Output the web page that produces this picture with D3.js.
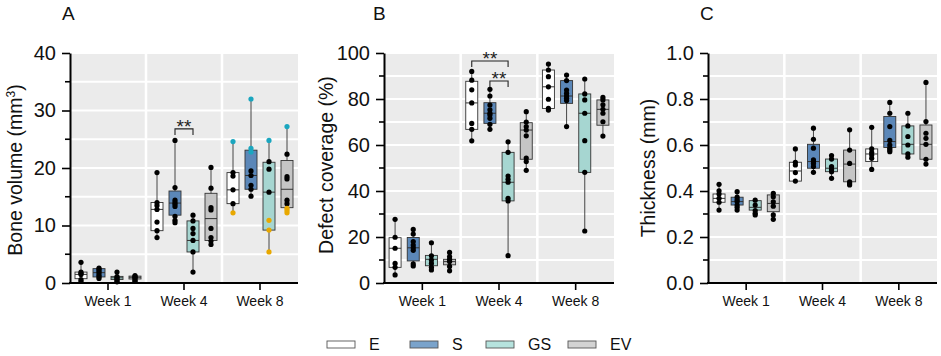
<!DOCTYPE html>
<html>
<head>
<meta charset="utf-8">
<script src="https://cdn.jsdelivr.net/npm/d3@7"></script>
<style>
  body { margin: 0; background: #fff; }
  svg { font-family: "Liberation Sans", Arial, sans-serif; }
</style>
</head>
<body>
<div id="chart"></div>
<script>
const width = 941
const height = 356

const weeks = ["Week 1", "Week 4", "Week 8"]
const groups = ["E", "S", "GS", "EV"]
const fills = ["#ffffff", "#5b87b8", "#a6d6d1", "#c5c5c5"]
const legendFills = ["#ffffff", "#7aa3cb", "#b6e3de", "#d3d3d3"]

// [q1, median, q3], order: week x group
const boneStats = [
  [0.75, 1.5, 1.9], [1.05, 1.8, 2.5], [0.6, 0.9, 1.15], [0.7, 1.0, 1.2],
  [9.1, 12.8, 14.0], [11.8, 13.9, 16.0], [5.4, 7.4, 10.8], [7.4, 11.2, 15.6],
  [13.8, 16.2, 19.2], [16.3, 18.7, 23.1], [9.2, 15.8, 21.0], [13.1, 16.3, 21.3]
]
const bonePts = [
  [3.6, 1.9, 1.7, 1.5, 0.6, 0.3], [2.6, 2.4, 2.1, 1.8, 1.4, 1.1, 0.8], [1.9, 1.1, 0.9, 0.7, 0.4, 0.2], [1.3, 1.1, 1.0, 0.8, 0.5, 0.3],
  [19.2, 14.0, 13.5, 12.8, 10.6, 9.1, 7.9], [24.8, 16.6, 14.4, 14.0, 13.7, 13.3, 11.6, 10.9, 10.5], [11.8, 10.8, 9.5, 8.6, 7.4, 5.4, 1.9], [20.1, 16.5, 13.1, 12.7, 9.5, 7.9, 7.3, 6.7],
  [19.2, 18.6, 16.2, 13.8], [19.5, 18.7, 17.0, 16.3, 15.1], [21.1, 19.8, 15.8], [22.4, 18.5, 18.1, 14.4, 13.8]
]
const boneCyan = [[], [], [], [], [], [], [], [], [24.6], [32.0, 23.4, 22.8], [24.8], [27.2]]
const boneOrange = [[], [], [], [], [], [], [], [], [12.2], [], [10.9, 9.2, 5.4], [13.0, 12.6, 12.2]]

const coverStats = [
  [6.8, 15.1, 19.7], [9.6, 15.3, 19.8], [7.5, 10.3, 12.0], [7.9, 9.3, 10.3],
  [66.8, 78.3, 87.7], [69.4, 73.8, 78.4], [35.7, 43.8, 56.8], [53.8, 66.5, 69.7],
  [75.9, 85.3, 92.6], [78.1, 81.3, 88.0], [48.1, 73.8, 82.2], [68.6, 75.5, 79.6]
]
const coverPts = [
  [27.7, 19.9, 15.1, 8.5, 6.8, 3.5], [23.3, 21.3, 18.0, 16.5, 15.3, 14.2, 8.3, 7.4], [17.5, 11.8, 10.0, 8.5, 6.8, 5.7], [13.3, 11.5, 10.3, 9.3, 7.2, 5.3],
  [92.0, 88.2, 84.0, 78.3, 69.4, 66.8, 61.8], [84.2, 81.3, 77.4, 75.3, 73.8, 73.0, 71.6, 69.0, 66.8], [61.4, 56.8, 46.5, 45.1, 43.8, 36.8, 35.7, 11.9], [74.5, 70.0, 68.0, 66.5, 64.0, 54.3, 52.8, 49.0],
  [95.2, 92.6, 89.7, 85.3, 79.9, 75.9, 75.2], [90.4, 88.0, 83.9, 82.5, 81.3, 80.3, 79.3, 68.0], [88.7, 82.2, 79.6, 73.8, 61.9, 48.1, 22.6], [80.7, 79.6, 77.5, 75.5, 73.8, 70.1, 63.9]
]

const thickStats = [
  [0.351, 0.368, 0.387], [0.339, 0.354, 0.373], [0.317, 0.329, 0.358], [0.310, 0.346, 0.383],
  [0.443, 0.487, 0.525], [0.499, 0.528, 0.603], [0.484, 0.499, 0.539], [0.440, 0.517, 0.578],
  [0.528, 0.561, 0.583], [0.589, 0.615, 0.724], [0.561, 0.603, 0.683], [0.538, 0.603, 0.687]
]
const thickPts = [
  [0.429, 0.401, 0.387, 0.368, 0.351, 0.317], [0.397, 0.373, 0.362, 0.354, 0.339, 0.329, 0.317], [0.360, 0.339, 0.315, 0.303, 0.296], [0.390, 0.375, 0.353, 0.334, 0.296, 0.277],
  [0.583, 0.525, 0.513, 0.480, 0.443], [0.673, 0.625, 0.586, 0.535, 0.528, 0.520, 0.506, 0.481], [0.554, 0.539, 0.506, 0.494, 0.484, 0.455], [0.666, 0.578, 0.520, 0.440, 0.433, 0.426],
  [0.677, 0.583, 0.567, 0.556, 0.542, 0.494], [0.785, 0.738, 0.680, 0.620, 0.600, 0.586, 0.578, 0.571], [0.738, 0.683, 0.637, 0.600, 0.561, 0.547], [0.872, 0.702, 0.651, 0.629, 0.603, 0.538, 0.517]
]
const empty = d3.range(12).map(() => [])

// significance brackets: [week, fromGroup, toGroup, level]
const boneSig = [["Week 4", "S", "GS", 26.8]]
const coverSig = [["Week 4", "E", "GS", 96.5], ["Week 4", "S", "GS", 87.8]]

const svg = d3.select("#chart").append("svg").attr("width", width).attr("height", height)

const plotTop = 53, plotBottom = 283

const panels = [
  {letter: "A", lx: 62, x0: 70, x1: 298, max: 40, major: [0, 10, 20, 30, 40], minorStep: 5, fmt: d => d,
   title: ["Bone volume (mm", "3", ")"], tx: 15, ty: 170, stats: boneStats, pts: bonePts, cyan: boneCyan, orange: boneOrange, sig: boneSig},
  {letter: "B", lx: 373, x0: 384, x1: 614, max: 100, major: [0, 20, 40, 60, 80, 100], minorStep: 10, fmt: d => d,
   title: ["Defect coverage (%)"], tx: 326, ty: 165, stats: coverStats, pts: coverPts, cyan: empty, orange: empty, sig: coverSig},
  {letter: "C", lx: 700, x0: 708, x1: 937, max: 1, major: [0, 0.2, 0.4, 0.6, 0.8, 1.0], minorStep: 0.1, fmt: d3.format(".1f"),
   title: ["Thickness (mm)"], tx: 648, ty: 168, stats: thickStats, pts: thickPts, cyan: empty, orange: empty, sig: []}
]

panels.forEach(p => {
  const g = svg.append("g")
  const x = d3.scaleBand().domain(weeks).range([p.x0, p.x1])
  const xi = d3.scaleBand().domain(groups).range([2, x.bandwidth() - 2])
  const y = d3.scaleLinear().domain([0, p.max]).range([plotBottom, plotTop])
  const bw = 12
  const cx = (w, gr) => x(w) + xi(gr) + xi.bandwidth() / 2

  // background + grid
  g.append("rect").attr("x", p.x0).attr("y", plotTop).attr("width", p.x1 - p.x0).attr("height", plotBottom - plotTop).attr("fill", "#ebebeb")
  const minor = d3.range(0, p.max + p.minorStep / 2, p.minorStep)
  g.selectAll(".hgrid").data(minor.slice(1)).enter().append("line")
    .attr("x1", p.x0).attr("x2", p.x1).attr("y1", d => y(d)).attr("y2", d => y(d))
    .attr("stroke", "#fff").attr("stroke-width", 2)
  g.selectAll(".vgrid").data(weeks.slice(1)).enter().append("line")
    .attr("x1", d => x(d)).attr("x2", d => x(d)).attr("y1", plotTop).attr("y2", plotBottom)
    .attr("stroke", "#fff").attr("stroke-width", 2.5)

  // boxes
  weeks.forEach((w, wi) => {
    groups.forEach((gr, gi) => {
      const k = wi * 4 + gi
      const s = p.stats[k]
      const all = p.pts[k].concat(p.cyan[k], p.orange[k])
      const ext = d3.extent(all)
      const c = cx(w, gr)
      g.append("line").attr("x1", c).attr("x2", c).attr("y1", y(ext[0])).attr("y2", y(ext[1]))
        .attr("stroke", "#333").attr("stroke-width", 0.9)
      g.append("rect").attr("x", c - bw / 2).attr("y", y(s[2])).attr("width", bw).attr("height", y(s[0]) - y(s[2]))
        .attr("fill", fills[gi]).attr("stroke", "#333").attr("stroke-width", 0.9)
      g.append("line").attr("x1", c - bw / 2).attr("x2", c + bw / 2).attr("y1", y(s[1])).attr("y2", y(s[1]))
        .attr("stroke", "#333").attr("stroke-width", 1)
      const dots = p.pts[k].map(v => [v, "#000"])
        .concat(p.cyan[k].map(v => [v, "#1aa6bf"]), p.orange[k].map(v => [v, "#e8a800"]))
      g.selectAll(null).data(dots).enter().append("circle")
        .attr("cx", c).attr("cy", d => y(d[0])).attr("r", 2.6).attr("fill", d => d[1])
    })
  })

  // significance
  p.sig.forEach(sg => {
    const a = cx(sg[0], sg[1]), b = cx(sg[0], sg[2]), yy = y(sg[3])
    g.append("path").attr("d", `M${a},${yy + 6}V${yy}H${b}V${yy + 6}`)
      .attr("fill", "none").attr("stroke", "#222").attr("stroke-width", 1.1)
    g.append("text").attr("x", (a + b) / 2).attr("y", yy + 4).attr("text-anchor", "middle")
      .attr("font-size", 19).attr("fill", "#222").text("**")
  })

  // axes
  const yAxis = d3.axisLeft(y).tickValues(p.major).tickFormat(p.fmt).tickSize(8).tickPadding(6).tickSizeOuter(0)
  const ya = g.append("g").attr("transform", `translate(${p.x0},0)`).call(yAxis)
  ya.select(".domain").attr("stroke", "#000").attr("stroke-width", 2)
  ya.selectAll(".tick line").attr("stroke", "#000").attr("stroke-width", 1.6)
  ya.selectAll(".tick text").attr("font-size", 20).attr("fill", "#111").attr("font-family", "Liberation Sans, Arial, sans-serif")
  const minorOnly = minor.filter(v => !p.major.some(m => Math.abs(m - v) < 1e-9))
  g.selectAll(".mtick").data(minorOnly).enter().append("line")
    .attr("x1", p.x0 - 5).attr("x2", p.x0).attr("y1", d => y(d)).attr("y2", d => y(d))
    .attr("stroke", "#000").attr("stroke-width", 1.6)

  const xAxis = d3.axisBottom(x).tickSize(7).tickPadding(6).tickSizeOuter(0)
  const xa = g.append("g").attr("transform", `translate(0,${plotBottom})`).call(xAxis)
  xa.select(".domain").attr("stroke", "#000").attr("stroke-width", 2).attr("d", `M${p.x0 - 1},0H${p.x1}`)
  xa.selectAll(".tick line").attr("stroke", "#000").attr("stroke-width", 1.6)
  xa.selectAll(".tick text").attr("font-size", 14).attr("fill", "#111").attr("font-family", "Liberation Sans, Arial, sans-serif")

  // y title
  const t = g.append("text").attr("transform", `translate(${p.tx},${p.ty}) rotate(-90)`)
    .attr("text-anchor", "middle").attr("dy", "0.35em").attr("font-size", 19.5).attr("fill", "#111")
  t.append("tspan").text(p.title[0])
  if (p.title.length > 1) {
    t.append("tspan").attr("font-size", 12).attr("dy", "-0.6em").text(p.title[1])
    t.append("tspan").attr("dy", "0.4em").text(p.title[2])
  }

  // panel letter
  g.append("text").attr("x", p.lx).attr("y", 20).attr("font-size", 19).attr("fill", "#111").text(p.letter)
})

// legend
const legendX = [327, 410, 486, 568]
const lg = svg.append("g")
groups.forEach((gr, i) => {
  lg.append("rect").attr("x", legendX[i]).attr("y", 341).attr("width", 28).attr("height", 7)
    .attr("fill", legendFills[i]).attr("stroke", "#555").attr("stroke-width", 0.9)
  lg.append("text").attr("x", legendX[i] + 42).attr("y", 344.5).attr("dy", "0.35em")
    .attr("font-size", 16).attr("fill", "#111").text(gr)
})
</script>
</body>
</html>
